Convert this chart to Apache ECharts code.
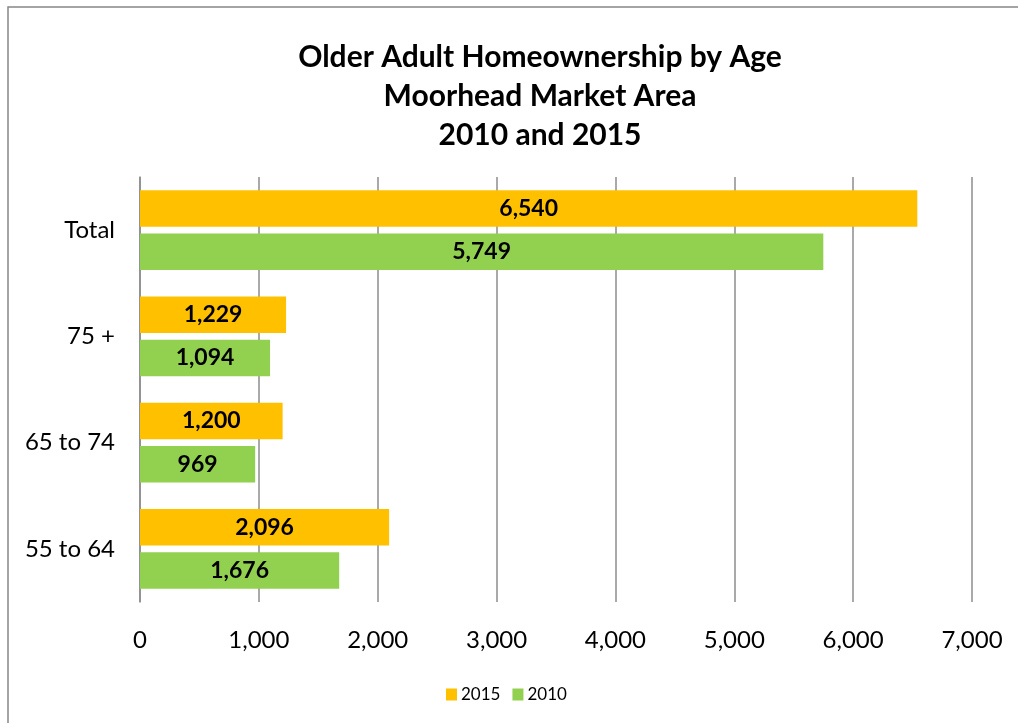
<!DOCTYPE html>
<html>
<head>
<meta charset="utf-8">
<script src="https://cdn.jsdelivr.net/npm/echarts@6/dist/echarts.min.js"></script>
<style>
  html, body { margin: 0; padding: 0; background: #fff; }
  #chart { width: 1018px; height: 723px; }
</style>
</head>
<body>
<div id="chart"></div>
<script>
// Age groups, listed bottom to top on the category axis
const categories = ['55 to 64', '65 to 74', '75 +', 'Total'];
const owners2015 = [2096, 1200, 1229, 6540];
const owners2010 = [1676, 969, 1094, 5749];
const titleLines = ['Older Adult Homeownership by Age', 'Moorhead Market Area', '2010 and 2015'];

const FONT = 'Lato, "Open Sans", sans-serif';
const GRID_GRAY = '#8c8c8c';

const fmt = v => v.toLocaleString('en-US');

const valueLabel = {
  show: true,
  position: 'inside',
  color: '#000',
  fontFamily: FONT,
  fontWeight: 'bold',
  fontSize: 23,
  formatter: p => fmt(p.value)
};

const chart = echarts.init(document.getElementById('chart'), null, { renderer: 'canvas' });

chart.setOption({
  backgroundColor: '#fff',
  animation: false,
  graphic: [
    {
      // outer frame of the chart
      type: 'rect',
      shape: { x: 8, y: 7, width: 1030, height: 740 },
      style: { fill: 'none', stroke: '#878787', lineWidth: 1.5 },
      silent: true
    },
    {
      // three-line centred heading
      type: 'text',
      x: 540,
      y: 38,
      silent: true,
      style: {
        text: titleLines.join('\n'),
        align: 'center',
        verticalAlign: 'top',
        fontFamily: FONT,
        fontWeight: 'bold',
        fontSize: 30,
        lineHeight: 39,
        fill: '#000'
      }
    }
  ],
  legend: {
    data: ['2015', '2010'],
    top: 681,
    left: 441,
    itemWidth: 11,
    itemHeight: 12,
    itemGap: 12,
    icon: 'rect',
    textStyle: { fontFamily: FONT, fontSize: 17, color: '#000', padding: [0, 0, 0, -1] }
  },
  grid: { left: 140, right: 46, top: 177, bottom: 121 },
  xAxis: {
    type: 'value',
    min: 0,
    max: 7000,
    interval: 1000,
    axisLine: { show: false },
    axisTick: { show: false },
    axisLabel: {
      fontFamily: FONT,
      fontSize: 24,
      color: '#000',
      margin: 26,
      formatter: v => fmt(v)
    },
    splitLine: { show: true, lineStyle: { color: GRID_GRAY, width: 1.5 } }
  },
  yAxis: {
    type: 'category',
    data: categories,
    axisLine: { show: true, lineStyle: { color: GRID_GRAY, width: 1.5 } },
    axisTick: { show: false },
    axisLabel: {
      fontFamily: FONT,
      fontSize: 24,
      color: '#000',
      margin: 25
    }
  },
  series: [
    {
      name: '2015',
      type: 'bar',
      data: owners2015,
      itemStyle: { color: '#FFC000' },
      barCategoryGap: '25%',
      barGap: '19%',
      label: valueLabel
    },
    {
      name: '2010',
      type: 'bar',
      data: owners2010,
      itemStyle: { color: '#92D050' },
      barCategoryGap: '25%',
      barGap: '19%',
      label: valueLabel
    }
  ]
});
</script>
</body>
</html>
